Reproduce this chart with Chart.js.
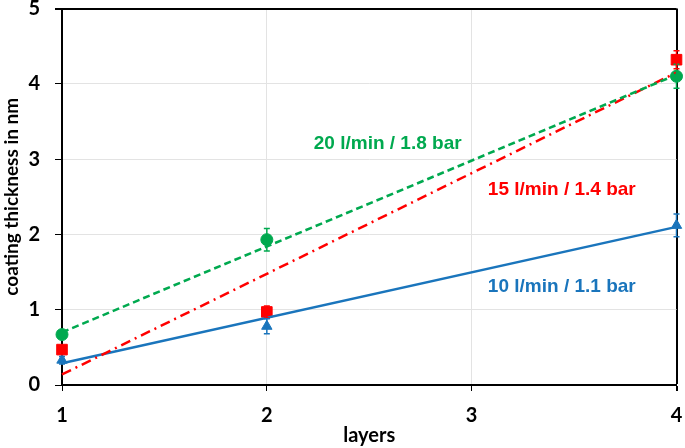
<!DOCTYPE html>
<html><head><meta charset="utf-8">
<script src="https://cdn.jsdelivr.net/npm/chart.js@4"></script>
<style>html,body{margin:0;padding:0;background:#fff}#w{width:685px;height:448px}</style>
</head><body><div id="w"><canvas id="c" width="685" height="448"></canvas></div>
<script>
const layers = [1, 2, 4];
const green = [0.67, 1.93, 4.10];
const greenErr = [0.05, 0.15, 0.16];
const red = [0.47, 0.97, 4.32];
const redErr = [0.04, 0.08, 0.12];
const blue = [0.33, 0.78, 2.12];
const blueErr = [0.05, 0.10, 0.15];
const fitX = [1, 4];
const greenFit = [0.70, 4.12];
const redFit = [0.14, 4.15];
const blueFit = [0.29, 2.10];
const xTicks = [1, 2, 3, 4];
const yTicks = [0, 1, 2, 3, 4, 5];
const labels = [
  {text: '20 l/min / 1.8 bar', x: 2.59, y: 3.21, color: '#00a94f'},
  {text: '15 l/min / 1.4 bar', x: 3.44, y: 2.59, color: '#ff0000'},
  {text: '10 l/min / 1.1 bar', x: 3.44, y: 1.30, color: '#1a75bc'}
];
const GREEN = '#00a94f', RED = '#ff0000', BLUE = '#1a75bc';
const pts = (xs, ys) => xs.map((x, i) => ({x, y: ys[i]}));

const errPlugin = {
  id: 'err',
  afterDatasetsDraw(chart) {
    const ctx = chart.ctx, xs = chart.scales.x, ys = chart.scales.y;
    chart.data.datasets.forEach(ds => {
      if (!ds.errors) return;
      ctx.save();
      ctx.strokeStyle = ds.borderColor; ctx.lineWidth = 1.5;
      ds.data.forEach((p, i) => {
        const px = xs.getPixelForValue(p.x);
        const y1 = ys.getPixelForValue(p.y - ds.errors[i]);
        const y2 = ys.getPixelForValue(p.y + ds.errors[i]);
        ctx.beginPath();
        ctx.moveTo(px, y1); ctx.lineTo(px, y2);
        ctx.moveTo(px - 3, y1); ctx.lineTo(px + 3, y1);
        ctx.moveTo(px - 3, y2); ctx.lineTo(px + 3, y2);
        ctx.stroke();
      });
      ctx.restore();
    });
  }
};
const labelPlugin = {
  id: 'lbl',
  afterDraw(chart) {
    const ctx = chart.ctx, xs = chart.scales.x, ys = chart.scales.y;
    ctx.save();
    ctx.font = 'bold 19px "Liberation Sans", Arial, sans-serif';
    ctx.textAlign = 'center'; ctx.textBaseline = 'middle';
    labels.forEach(l => {
      ctx.fillStyle = l.color;
      ctx.fillText(l.text, xs.getPixelForValue(l.x), ys.getPixelForValue(l.y));
    });
    ctx.restore();
  }
};
const frameCol = (v, last) => v === last ? '#000' : '#e3e3e3';

new Chart(document.getElementById('c'), {
  type: 'scatter',
  data: {
    datasets: [
      {data: pts(fitX, greenFit), showLine: true, borderColor: GREEN, borderWidth: 2.5, borderDash: [7, 4], pointRadius: 0, clip: false},
      {data: pts(fitX, redFit), showLine: true, borderColor: RED, borderWidth: 2.5, borderDash: [10, 5, 2, 5], pointRadius: 0, clip: false},
      {data: pts(fitX, blueFit), showLine: true, borderColor: BLUE, borderWidth: 2.5, pointRadius: 0, clip: false},
      {data: pts(layers, green), errors: greenErr, borderColor: GREEN, backgroundColor: GREEN, pointStyle: 'circle', pointRadius: 6, clip: false},
      {data: pts(layers, red), errors: redErr, borderColor: RED, backgroundColor: RED, pointStyle: 'rect', pointRadius: 7.5, clip: false},
      {data: pts(layers, blue), errors: blueErr, borderColor: BLUE, backgroundColor: BLUE, pointStyle: 'triangle', pointRadius: 6, clip: false}
    ]
  },
  options: {
    responsive: false, animation: false,
    layout: {padding: {top: 8, right: 6, left: 0, bottom: 0}},
    plugins: {legend: {display: false}, tooltip: {enabled: false}},
    scales: {
      x: {
        type: 'linear', min: 1, max: 4,
        afterBuildTicks: s => { s.ticks = xTicks.map(v => ({value: v})); },
        afterFit: s => { s.height = 63; s.paddingLeft = 0; s.paddingRight = 0; },
        border: {color: '#000', width: 2},
        grid: {color: c => frameCol(c.tick && c.tick.value, 4), lineWidth: c => (c.tick && c.tick.value === 4) ? 2 : 1, tickColor: '#000', tickLength: 6},
        ticks: {color: '#000', padding: 13, font: {family: 'Lato', weight: 'bold', size: 20}},
        title: {display: true, text: 'layers', color: '#000', padding: {top: 0, bottom: 0}, font: {family: 'Lato', weight: 'bold', size: 20}}
      },
      y: {
        min: 0, max: 5,
        afterBuildTicks: s => { s.ticks = yTicks.map(v => ({value: v})); },
        afterFit: s => { s.width = 62; s.paddingTop = 0; s.paddingBottom = 0; },
        border: {color: '#000', width: 2},
        grid: {color: c => frameCol(c.tick && c.tick.value, 5), lineWidth: c => (c.tick && c.tick.value === 5) ? 2 : 1, tickColor: '#000', tickLength: 7},
        ticks: {color: '#000', padding: 15, font: {family: 'Lato', weight: 'bold', size: 20}},
        title: {display: true, text: 'coating thickness in nm', color: '#000', padding: {top: 0, bottom: 0}, font: {family: 'Lato', weight: 'bold', size: 19}}
      }
    }
  },
  plugins: [errPlugin, labelPlugin]
});
</script></body></html>
